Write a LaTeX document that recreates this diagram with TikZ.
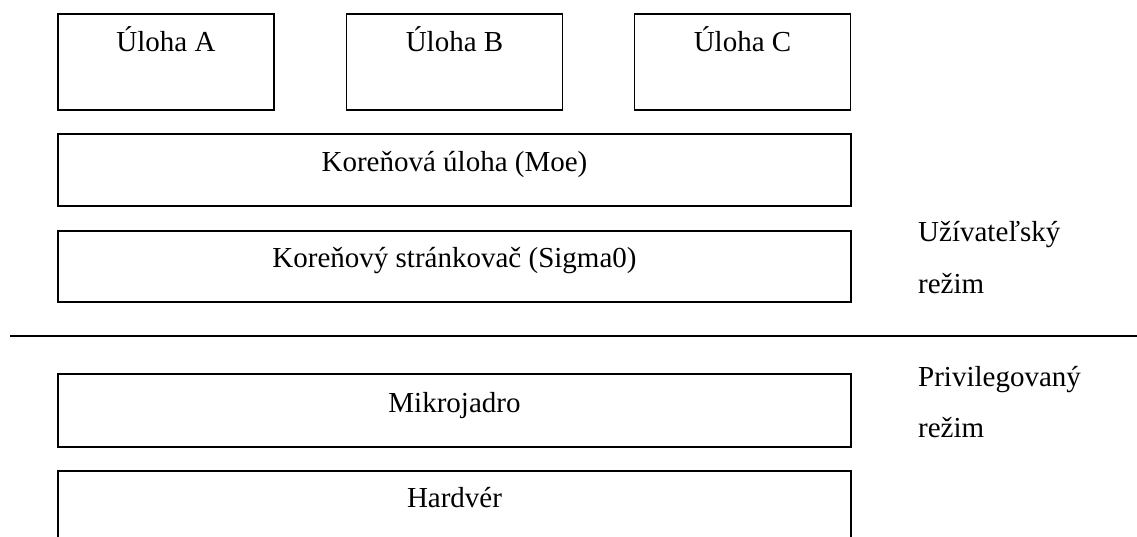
\documentclass[tikz,border=0pt]{standalone}
\usepackage{fontspec}
\setmainfont{Liberation Serif}
\begin{document}
\begin{tikzpicture}[x=1pt,y=-1pt,
  layer/.style={draw,line width=1.9pt,rectangle,inner sep=0pt,outer sep=0pt},
  caption/.style={font=\fontsize{29}{34}\selectfont,inner sep=0pt},
  modelabel/.style={caption,anchor=base west}]
\useasboundingbox (0,0) rectangle (1137,537);
\clip (0,0) rectangle (1137,537);

% tasks
\node[layer,minimum width=216pt,minimum height=96pt] (ua) at (166,62) {};
\node[layer,minimum width=216pt,minimum height=96pt] (ub) at (454.5,62) {};
\node[layer,minimum width=216pt,minimum height=96pt] (uc) at (742.5,62) {};
\node[caption,anchor=base] (uat) at (166,52) {Úloha A};
\node[caption,anchor=base] (ubt) at (454.5,52) {Úloha B};
\node[caption,anchor=base] (uct) at (742.5,52) {Úloha C};

% user-space layers
\node[layer,minimum width=793pt,minimum height=72pt] (root) at (454.5,170) {};
\node[caption,anchor=base] (roott) at (454.5,172) {Koreňová úloha (Moe)};
\node[layer,minimum width=793pt,minimum height=71pt] (pager) at (454.5,266.5) {};
\node[caption,anchor=base] (pagert) at (454.5,267) {Koreňový stránkovač (Sigma0)};

% privilege boundary
\coordinate (sepL) at (10,336);
\coordinate (sepR) at (1137,336);
\draw[line width=1.9pt] (sepL) -- (sepR);

% kernel-space layers
\node[layer,minimum width=793pt,minimum height=73pt] (kern) at (454.5,410.5) {};
\node[caption,anchor=base] (kernt) at (454.5,412) {Mikrojadro};
\node[layer,minimum width=793pt,minimum height=80pt] (hw) at (454.5,511) {};
\node[caption,anchor=base] (hwt) at (454.5,507) {Hardvér};

% mode labels
\node[modelabel] (user1) at (918,242) {Užívateľský};
\node[modelabel] (user2) at (918,294) {režim};
\node[modelabel] (priv1) at (918,386) {Privilegovaný};
\node[modelabel] (priv2) at (918,437) {režim};
\end{tikzpicture}
\end{document}
